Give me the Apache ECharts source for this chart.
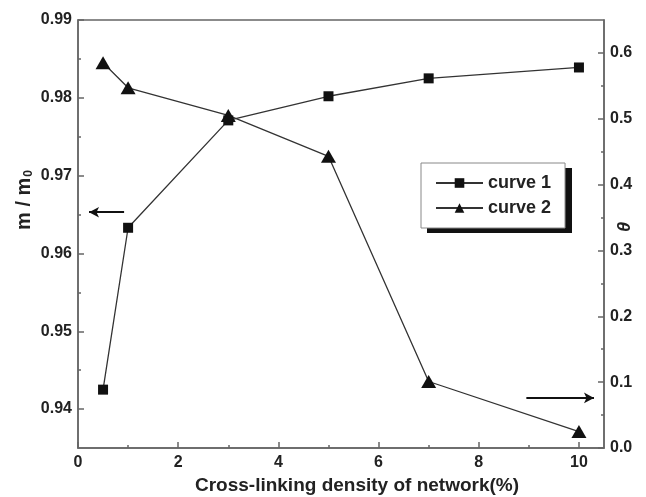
<!DOCTYPE html>
<html>
<head>
<meta charset="utf-8">
<script src="https://cdn.jsdelivr.net/npm/echarts@6/dist/echarts.min.js"></script>
<style>
  html, body { margin: 0; padding: 0; background: #fff; }
  #main { width: 646px; height: 497px; }
</style>
</head>
<body>
<div id="main"></div>
<script>
// crosslinking density (%)
var xs = [0.5, 1, 3, 5, 7, 10];
// m / m0 (left axis)
var curve1 = [0.9425, 0.9633, 0.9771, 0.9802, 0.9825, 0.9839];
// theta (right axis)
var curve2 = [0.585, 0.547, 0.505, 0.443, 0.101, 0.025];

var xMajor = [0, 2, 4, 6, 8, 10];
var xMinor = [1, 3, 5, 7, 9];
var leftMajor = [0.94, 0.95, 0.96, 0.97, 0.98, 0.99];
var leftMinor = [0.945, 0.955, 0.965, 0.975, 0.985];
var rightMajor = [0, 0.1, 0.2, 0.3, 0.4, 0.5, 0.6];
var rightMinor = [0.05, 0.15, 0.25, 0.35, 0.45, 0.55];

var font = "'Liberation Sans', Arial, sans-serif";
var axisColor = "#666";
var textColor = "#222";

function pairs(x, y) {
  return x.map(function (v, i) { return [v, y[i]]; });
}

var chart = echarts.init(document.getElementById("main"));

// tick label style shared by all axes
var lbl = { color: textColor, fontFamily: font, fontWeight: "bold", fontSize: 16 };

var option = {
  animation: false,
  grid: {
    left: 78, right: 42, top: 20, bottom: 49,
    outerBoundsMode: "none",
    show: true, borderColor: axisColor, borderWidth: 1.5, backgroundColor: "#fff"
  },
  legend: {
    orient: "vertical",
    left: 421, top: 163,
    padding: [11, 14, 11, 14],
    itemWidth: 47, itemHeight: 12, itemGap: 7,
    backgroundColor: "#fff",
    borderColor: "#888", borderWidth: 1,
    z: 10,
    textStyle: { color: textColor, fontFamily: font, fontWeight: "bold", fontSize: 18 },
    data: ["curve 1", "curve 2"]
  },
  xAxis: [
    {
      type: "value", min: 0, max: 10.5, interval: 1, position: "bottom",
      name: "Cross-linking density of network(%)",
      nameLocation: "middle", nameGap: 26,
      nameTextStyle: { color: textColor, fontFamily: font, fontWeight: "bold", fontSize: 19, padding: [0, 0, 0, 32] },
      axisLine: { show: true, lineStyle: { color: axisColor, width: 1.5 } },
      axisTick: { show: true, inside: true, length: 6, customValues: xMajor, lineStyle: { color: axisColor, width: 1.5 } },
      axisLabel: Object.assign({ customValues: xMajor, margin: 7 }, lbl),
      splitLine: { show: false }
    },
    {
      type: "value", min: 0, max: 10.5, interval: 1, position: "bottom",
      axisLine: { show: false },
      axisTick: { show: true, inside: true, length: 3, customValues: xMinor, lineStyle: { color: axisColor, width: 1.5 } },
      axisLabel: { show: false },
      splitLine: { show: false }
    }
  ],
  yAxis: [
    {
      type: "value", min: 0.935, max: 0.99, interval: 0.005, position: "left",
      axisLine: { show: true, lineStyle: { color: axisColor, width: 1.5 } },
      axisTick: { show: true, inside: true, length: 6, customValues: leftMajor, lineStyle: { color: axisColor, width: 1.5 } },
      axisLabel: Object.assign({
        customValues: leftMajor, margin: 6,
        formatter: function (v) { return v.toFixed(2); }
      }, lbl),
      splitLine: { show: false }
    },
    {
      type: "value", min: 0.935, max: 0.99, interval: 0.005, position: "left",
      axisLine: { show: false },
      axisTick: { show: true, inside: true, length: 3, customValues: leftMinor, lineStyle: { color: axisColor, width: 1.5 } },
      axisLabel: { show: false },
      splitLine: { show: false }
    },
    {
      type: "value", min: 0, max: 0.65, interval: 0.05, position: "right",
      axisLine: { show: true, lineStyle: { color: axisColor, width: 1.5 } },
      axisTick: { show: true, inside: true, length: 6, customValues: rightMajor, lineStyle: { color: axisColor, width: 1.5 } },
      axisLabel: Object.assign({
        customValues: rightMajor, margin: 6,
        formatter: function (v) { return v.toFixed(1); }
      }, lbl),
      splitLine: { show: false }
    },
    {
      type: "value", min: 0, max: 0.65, interval: 0.05, position: "right",
      axisLine: { show: false },
      axisTick: { show: true, inside: true, length: 3, customValues: rightMinor, lineStyle: { color: axisColor, width: 1.5 } },
      axisLabel: { show: false },
      splitLine: { show: false }
    }
  ],
  graphic: [
    {
      // left axis title m / m0 (not centred on the axis in the original)
      type: "text",
      x: 24, y: 200,
      rotation: Math.PI / 2,
      style: {
        text: "{a|m / m}{s|0}",
        align: "center", verticalAlign: "middle",
        rich: {
          a: { fontFamily: font, fontWeight: "bold", fontSize: 20, fill: textColor },
          s: { fontFamily: font, fontWeight: "bold", fontSize: 12, fill: textColor, padding: [9, 0, 0, 1] }
        }
      }
    },
    {
      // right axis title
      type: "text",
      x: 625, y: 227,
      rotation: Math.PI / 2,
      style: {
        text: "θ",
        align: "center", verticalAlign: "middle",
        fontFamily: font, fontWeight: "bold", fontStyle: "italic", fontSize: 18, fill: textColor
      }
    },
    {
      // drop shadow behind the legend box
      type: "rect",
      z: 5,
      shape: { x: 427, y: 168, width: 145, height: 65 },
      style: { fill: "#111" }
    }
  ],
  series: [
    {
      name: "curve 1",
      type: "line",
      xAxisIndex: 0, yAxisIndex: 0,
      data: pairs(xs, curve1),
      symbol: "rect", symbolSize: 10,
      itemStyle: { color: "#111" },
      lineStyle: { color: "#333", width: 1.3 },
      markLine: {
        silent: true,
        symbol: ["none", "arrow"], symbolSize: [8, 10],
        label: { show: false },
        lineStyle: { color: "#111", width: 2, type: "solid" },
        data: [[{ coord: [0.92, 0.9653] }, { coord: [0.22, 0.9653] }]]
      }
    },
    {
      name: "curve 2",
      type: "line",
      xAxisIndex: 0, yAxisIndex: 2,
      data: pairs(xs, curve2),
      symbol: "triangle", symbolSize: [15, 13],
      itemStyle: { color: "#111" },
      lineStyle: { color: "#333", width: 1.3 },
      markLine: {
        silent: true,
        symbol: ["none", "arrow"], symbolSize: [8, 10],
        label: { show: false },
        lineStyle: { color: "#111", width: 2, type: "solid" },
        data: [[{ coord: [8.95, 0.076] }, { coord: [10.3, 0.076] }]]
      }
    }
  ]
};

chart.setOption(option);
</script>
</body>
</html>
